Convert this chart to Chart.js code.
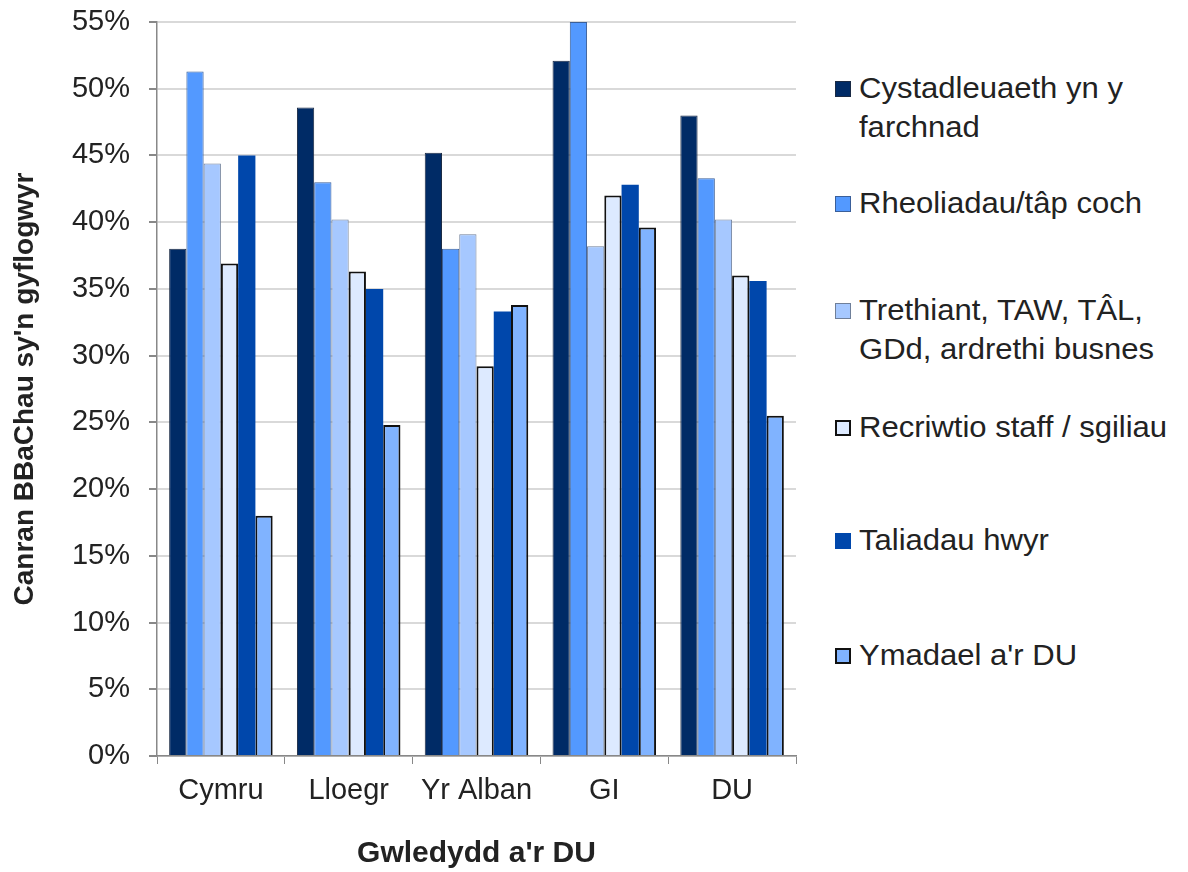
<!DOCTYPE html>
<html>
<head>
<meta charset="utf-8">
<script src="https://cdn.jsdelivr.net/npm/chart.js@4"></script>
<style>
  body { margin: 0; background: #fff; font-family: "Liberation Sans", Arial, sans-serif; }
  #wrap { position: relative; width: 1188px; height: 872px; }
  #chartBox { position: absolute; left: 0; top: 0; width: 810px; height: 872px; }
  #legend { position: absolute; left: 835px; top: 0; width: 353px; height: 872px; }
  .item { position: absolute; left: 0; display: flex; align-items: flex-start; }
  .box { width: 16px; height: 16px; margin-top: 12px; margin-right: 8px; flex: none; box-sizing: border-box; }
  .txt { font-size: 29px; line-height: 39px; color: #222; transform: scaleX(1.07); transform-origin: left top; white-space: nowrap; }
</style>
</head>
<body>
<div id="wrap">
  <div id="chartBox"><canvas id="chart"></canvas></div>
  <div id="legend"></div>
</div>
<script>
// Data
const categories = ['Cymru', 'Lloegr', 'Yr Alban', 'GI', 'DU'];
const seriesNames = [
  'Cystadleuaeth yn y farchnad',
  'Rheoliadau/tâp coch',
  'Trethiant, TAW, TÂL, GDd, ardrethi busnes',
  'Recriwtio staff / sgiliau',
  'Taliadau hwyr',
  "Ymadael a'r DU"
];
const competition = [38.0, 48.6, 45.2, 52.1, 48.0];
const regulation  = [51.3, 43.0, 38.0, 55.0, 43.3];
const taxation    = [44.4, 40.2, 39.1, 38.2, 40.2];
const recruitment = [36.9, 36.3, 29.2, 42.0, 36.0];
const latePayment = [45.0, 35.0, 33.3, 42.8, 35.6];
const leavingEU   = [18.0, 24.8, 33.8, 39.6, 25.5];
const yTicks = [0, 5, 10, 15, 20, 25, 30, 35, 40, 45, 50, 55];

// Styles
const fills   = ['#002b66', '#5399ff', '#a6c8ff', '#ddeaff', '#0047ab', '#80b3ff'];
const borders = ['#1a2a44', '#3a5f99', '#6f7f99', '#111111', '#0047ab', '#111111'];
const bWidths = [1, 1, 1, 2, 0, 2];
const legendTops = [69, 184, 291, 408, 521, 636];
const legendText = [
  'Cystadleuaeth yn y<br>farchnad',
  'Rheoliadau/tâp coch',
  'Trethiant, TAW, TÂL,<br>GDd, ardrethi busnes',
  'Recriwtio staff / sgiliau',
  'Taliadau hwyr',
  "Ymadael a'r DU"
];

const values = [competition, regulation, taxation, recruitment, latePayment, leavingEU];

const datasets = seriesNames.map((name, i) => ({
  label: name,
  data: values[i],
  backgroundColor: fills[i],
  borderColor: borders[i],
  borderWidth: bWidths[i],
  borderSkipped: 'bottom',
  barPercentage: 1.0,
  categoryPercentage: 0.81
}));

// HTML legend (wrapped text like the original)
const legend = document.getElementById('legend');
seriesNames.forEach((name, i) => {
  const item = document.createElement('div');
  item.className = 'item';
  item.style.top = legendTops[i] + 'px';
  const box = document.createElement('div');
  box.className = 'box';
  box.style.background = fills[i];
  box.style.border = (bWidths[i] > 1 ? 2 : 1) + 'px solid ' + (i === 4 ? '#0047ab' : borders[i]);
  const txt = document.createElement('div');
  txt.className = 'txt';
  txt.innerHTML = legendText[i];
  item.appendChild(box);
  item.appendChild(txt);
  legend.appendChild(item);
});

const fam = '"Liberation Sans", Arial, sans-serif';

new Chart(document.getElementById('chart'), {
  type: 'bar',
  data: { labels: categories, datasets: datasets },
  options: {
    responsive: true,
    maintainAspectRatio: false,
    animation: false,
    layout: { padding: { top: 22, right: 14, left: 0, bottom: 0 } },
    plugins: {
      legend: { display: false },
      tooltip: { enabled: false }
    },
    scales: {
      x: {
        grid: {
          display: true,
          drawOnChartArea: false,
          drawTicks: true,
          tickLength: 8,
          offset: true,
          color: '#888'
        },
        border: { color: '#888', width: 1.5 },
        ticks: { color: '#222', font: { family: fam, size: 29 }, padding: 10 },
        title: {
          display: true,
          text: "Gwledydd a'r DU",
          color: '#222',
          font: { family: fam, size: 30, weight: 'bold' },
          padding: { top: 16, bottom: 0 }
        },
        afterFit: function(scale) {
          scale.height = 116;
          scale.paddingLeft = 0;
          scale.paddingRight = 0;
        }
      },
      y: {
        min: 0,
        max: 55,
        afterBuildTicks: function(scale) {
          scale.ticks = yTicks.map(v => ({ value: v }));
        },
        grid: { color: '#d9d9d9', lineWidth: 2, tickLength: 8, tickColor: '#888' },
        border: { color: '#888', width: 1.5 },
        ticks: {
          color: '#222',
          font: { family: fam, size: 29 },
          padding: 19,
          callback: v => v + '%'
        },
        title: {
          display: true,
          text: "Canran BBaChau sy'n gyflogwyr",
          color: '#222',
          font: { family: fam, size: 28, weight: 'bold' },
          padding: { top: 8, bottom: 0 }
        },
        afterFit: function(scale) {
          scale.width = 157;
          scale.paddingTop = 0;
          scale.paddingBottom = 0;
        }
      }
    }
  }
});
</script>
</body>
</html>
